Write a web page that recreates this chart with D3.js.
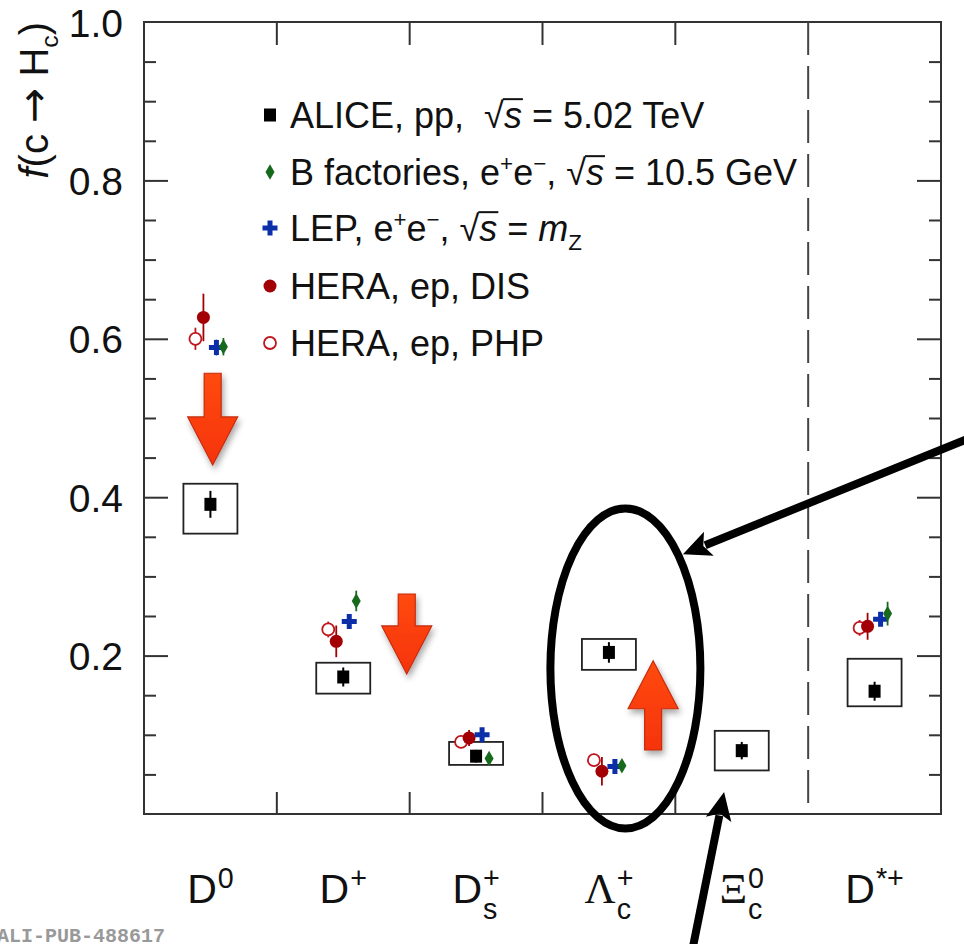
<!DOCTYPE html>
<html>
<head>
<meta charset="utf-8">
<script src="https://cdn.jsdelivr.net/npm/d3@7"></script>
<style>
  html, body { margin: 0; padding: 0; background: #fff; }
  svg { display: block; }
</style>
</head>
<body>
<svg id="chart" width="964" height="944"></svg>
<script>
// ---- Charm fragmentation fractions f(c -> Hc) ----
const categories = ["D0", "D+", "Ds+", "Lc+", "Xic0", "D*+"];

// ALICE, pp, sqrt(s) = 5.02 TeV
const aliceValue   = [0.391, 0.173, 0.073, 0.204, 0.080, 0.155];
const aliceStat    = [0.017, 0.012, 0.008, 0.013, 0.011, 0.012];
const aliceSysUp   = [0.026, 0.018, 0.018, 0.017, 0.025, 0.041];
const aliceSysDown = [0.037, 0.021, 0.011, 0.022, 0.025, 0.019];

// e+e- and ep measurements (null: not measured)
const bfacValue    = [0.590, 0.269, 0.070, 0.061, null, 0.253];
const bfacErr      = [0.011, 0.013, 0.005, 0.005, null, 0.015];
const lepValue     = [0.589, 0.243, 0.100, 0.060, null, 0.246];
const lepErr       = [0.010, 0.008, 0.006, 0.006, null, 0.008];
const heraDisValue = [0.627, 0.218, 0.096, 0.054, null, 0.237];
const heraDisErr   = [0.030, 0.020, 0.010, 0.018, null, 0.017];
const heraPhpValue = [0.600, 0.233, 0.091, 0.068, null, 0.235];
const heraPhpErr   = [0.014, 0.010, 0.008, 0.008, null, 0.010];

const yTickLabels = [0.2, 0.4, 0.6, 0.8, 1.0];

// ---- layout ----
const W = 964, H = 944;
const plot = { left: 144, right: 941, top: 22, bottom: 814 };
const FONT = '"Liberation Sans", Arial, Helvetica, sans-serif';
const SERIF = '"Liberation Serif", "Times New Roman", serif';
const AXIS_COLOR = "#333";

const svg = d3.select("#chart");
const x = d3.scaleBand().domain(categories).range([plot.left, plot.right]);
const y = d3.scaleLinear().domain([0, 1]).range([plot.bottom, plot.top]);
const bw = x.bandwidth();
const xc = c => x(c) + bw / 2;

const defs = svg.append("defs");
const shadow = defs.append("filter").attr("id", "shadow")
  .attr("x", "-50%").attr("y", "-50%").attr("width", "200%").attr("height", "200%");
shadow.append("feDropShadow").attr("dx", 2).attr("dy", 4).attr("stdDeviation", 3)
  .attr("flood-color", "#000").attr("flood-opacity", 0.35);
const grad = defs.append("linearGradient").attr("id", "redfill")
  .attr("x1", 0).attr("y1", 0).attr("x2", 0).attr("y2", 1);
grad.append("stop").attr("offset", "0%").attr("stop-color", "#ff4a12");
grad.append("stop").attr("offset", "100%").attr("stop-color", "#f63308");

// ---- frame ----
svg.append("rect")
  .attr("x", plot.left).attr("y", plot.top)
  .attr("width", plot.right - plot.left).attr("height", plot.bottom - plot.top)
  .attr("fill", "none").attr("stroke", AXIS_COLOR).attr("stroke-width", 2);

// y ticks on both sides (minor every 0.05, major every 0.2)
const minorVals = d3.range(1, 20).map(i => i * 0.05).filter(v => Math.abs(v / 0.2 - Math.round(v / 0.2)) > 1e-6);
const majorVals = [0.2, 0.4, 0.6, 0.8];
function tickAxis(axisFn, xpos, vals, len) {
  const g = svg.append("g").attr("transform", `translate(${xpos},0)`)
    .call(axisFn(y).tickValues(vals).tickSize(-len).tickFormat(""));
  g.select(".domain").remove();
  g.selectAll(".tick line").attr("stroke", AXIS_COLOR).attr("stroke-width", 2);
}
tickAxis(d3.axisLeft, plot.left, minorVals, 12);
tickAxis(d3.axisLeft, plot.left, majorVals, 24);
tickAxis(d3.axisRight, plot.right, minorVals, 12);
tickAxis(d3.axisRight, plot.right, majorVals, 24);

// y tick labels
const yLab = svg.append("g").attr("transform", `translate(${plot.left},0)`)
  .call(d3.axisLeft(y).tickValues(yTickLabels).tickSize(0).tickPadding(21).tickFormat(d3.format(".1f")));
yLab.select(".domain").remove();
yLab.selectAll("text").attr("font-family", FONT).attr("font-size", 39).attr("fill", "#111").attr("dy", "0.36em");

// x ticks at category boundaries (bottom and top)
const bounds = categories.slice(1, -1);
svg.append("g").selectAll("line.bt").data(bounds).join("line")
  .attr("x1", d => x(d)).attr("x2", d => x(d))
  .attr("y1", plot.bottom).attr("y2", plot.bottom - 22)
  .attr("stroke", AXIS_COLOR).attr("stroke-width", 2);
svg.append("g").selectAll("line.tt").data(bounds).join("line")
  .attr("x1", d => x(d)).attr("x2", d => x(d))
  .attr("y1", plot.top).attr("y2", plot.top + 23)
  .attr("stroke", AXIS_COLOR).attr("stroke-width", 2);

// dashed separator before D*+
svg.append("line")
  .attr("x1", x("D*+")).attr("x2", x("D*+"))
  .attr("y1", y(1)).attr("y2", y(0))
  .attr("stroke", "#444").attr("stroke-width", 2).attr("stroke-dasharray", "33,11");

// ---- rich text helper ----
function rich(textSel, parts, fs) {
  let shift = 0;
  const nodes = [];
  parts.forEach(p => {
    let target = 0, size = fs;
    if (p.sup) { target = -0.40 * fs; size = 0.62 * fs; }
    if (p.sub) { target = 0.24 * fs; size = 0.62 * fs; }
    if (p.scale) size = fs * p.scale;
    const ts = textSel.append("tspan").text(p.t)
      .attr("dy", target - shift).attr("font-size", size);
    if (p.it) ts.attr("font-style", "italic");
    if (p.family) ts.attr("font-family", p.family);
    shift = target;
    nodes.push(ts.node());
  });
  return nodes;
}

// ---- y title ----
const yTitle = svg.append("text")
  .attr("transform", `translate(48,${plot.top}) rotate(-90)`)
  .attr("text-anchor", "end").attr("font-family", FONT).attr("fill", "#111");
rich(yTitle, [
  { t: "f", it: true }, { t: "(c " },
  { t: "\u2192", family: '"DejaVu Sans", sans-serif', scale: 1.05 },
  { t: " H" }, { t: "c", sub: true }, { t: ")" }
], 40);

// ---- category labels ----
const catLabels = {
  "D0":   { base: "D", sup: "0" },
  "D+":   { base: "D", sup: "+" },
  "Ds+":  { base: "D", sup: "+", sub: "s" },
  "Lc+":  { base: "\u039B", sup: "+", sub: "c", serif: true },
  "Xic0": { base: "\u039E", sup: "0", sub: "c", serif: true },
  "D*+":  { base: "D", sup: "*+" }
};
const CAT_FS = 41;
categories.forEach(c => {
  const lab = catLabels[c];
  const g = svg.append("g");
  const base = g.append("text").text(lab.base)
    .attr("font-family", lab.serif ? SERIF : FONT).attr("font-size", CAT_FS + (lab.serif ? 2 : 0))
    .attr("fill", "#111");
  const w = base.node().getComputedTextLength();
  let extra = 0;
  if (lab.sup) {
    const s = g.append("text").text(lab.sup).attr("x", w + 1).attr("y", -0.36 * CAT_FS)
      .attr("font-family", FONT).attr("font-size", 0.70 * CAT_FS).attr("fill", "#111");
    extra = Math.max(extra, s.node().getComputedTextLength());
  }
  if (lab.sub) {
    const s = g.append("text").text(lab.sub).attr("x", w + 1).attr("y", 0.38 * CAT_FS)
      .attr("font-family", FONT).attr("font-size", 0.70 * CAT_FS).attr("fill", "#111");
    extra = Math.max(extra, s.node().getComputedTextLength());
  }
  const total = w + 1 + extra;
  g.attr("transform", `translate(${xc(c) - total / 2},903)`);
});

// ---- ALICE points: systematic boxes, stat bars, squares ----
const aliceIdx = d3.range(categories.length);
const BOX_HALF = 27;
svg.append("g").selectAll("rect").data(aliceIdx).join("rect")
  .attr("x", i => xc(categories[i]) - BOX_HALF).attr("width", 2 * BOX_HALF)
  .attr("y", i => y(aliceValue[i] + aliceSysUp[i]))
  .attr("height", i => y(aliceValue[i] - aliceSysDown[i]) - y(aliceValue[i] + aliceSysUp[i]))
  .attr("fill", "none").attr("stroke", "#222").attr("stroke-width", 1.8);
svg.append("g").selectAll("line").data(aliceIdx).join("line")
  .attr("x1", i => xc(categories[i])).attr("x2", i => xc(categories[i]))
  .attr("y1", i => y(aliceValue[i] + aliceStat[i])).attr("y2", i => y(aliceValue[i] - aliceStat[i]))
  .attr("stroke", "#000").attr("stroke-width", 2);
svg.append("g").selectAll("rect").data(aliceIdx).join("rect")
  .attr("x", i => xc(categories[i]) - 6).attr("width", 12)
  .attr("y", i => y(aliceValue[i]) - 6.5).attr("height", 13)
  .attr("fill", "#000");

// ---- other experiments ----
const others = [
  { key: "php", values: heraPhpValue, errs: heraPhpErr, color: "#c0161e", dx: -15,
    symbol: d3.symbolCircle, size: 113, fill: "#fff", stroke: 1.8 },
  { key: "dis", values: heraDisValue, errs: heraDisErr, color: "#a30006", dx: -7,
    symbol: d3.symbolCircle, size: 133, fill: null, stroke: 0 },
  { key: "lep", values: lepValue, errs: lepErr, color: "#0a2fa8", dx: 6,
    symbol: d3.symbolCross, size: 125, fill: null, stroke: 0 },
  { key: "bfac", values: bfacValue, errs: bfacErr, color: "#17691b", dx: 13,
    symbol: d3.symbolDiamond, size: 70, fill: null, stroke: 0 }
];
others.forEach(s => {
  const idx = aliceIdx.filter(i => s.values[i] != null);
  const g = svg.append("g");
  g.selectAll("line").data(idx).join("line")
    .attr("x1", i => xc(categories[i]) + s.dx).attr("x2", i => xc(categories[i]) + s.dx)
    .attr("y1", i => y(s.values[i] + s.errs[i])).attr("y2", i => y(s.values[i] - s.errs[i]))
    .attr("stroke", s.color).attr("stroke-width", 1.8);
  g.selectAll("path").data(idx).join("path")
    .attr("d", d3.symbol().type(s.symbol).size(s.size))
    .attr("transform", i => `translate(${xc(categories[i]) + s.dx},${y(s.values[i])})`)
    .attr("fill", s.fill || s.color)
    .attr("stroke", s.stroke ? s.color : "none").attr("stroke-width", s.stroke);
});

// ---- legend ----
const LEG_FS = 36;
const legendRows = [
  { y: 115, mark: "alice", parts: [{ t: "ALICE, pp,  " }, { t: "\u221A" }, { t: "s", it: true, ov: true }, { t: " = 5.02 TeV" }] },
  { y: 172, mark: "bfac", parts: [{ t: "B factories, e" }, { t: "+", sup: true }, { t: "e" }, { t: "\u2212", sup: true }, { t: ", " }, { t: "\u221A" }, { t: "s", it: true, ov: true }, { t: " = 10.5 GeV" }] },
  { y: 228, mark: "lep", parts: [{ t: "LEP, e" }, { t: "+", sup: true }, { t: "e" }, { t: "\u2212", sup: true }, { t: ", " }, { t: "\u221A" }, { t: "s", it: true, ov: true }, { t: " = " }, { t: "m", it: true }, { t: "Z", sub: true }] },
  { y: 286, mark: "dis", parts: [{ t: "HERA, ep, DIS" }] },
  { y: 343, mark: "php", parts: [{ t: "HERA, ep, PHP" }] }
];
const leg = svg.append("g");
legendRows.forEach(r => {
  const mx = 270;
  if (r.mark === "alice") {
    leg.append("rect").attr("x", mx - 6).attr("y", r.y - 6.5).attr("width", 12).attr("height", 13).attr("fill", "#000");
  } else {
    const s = others.find(o => o.key === r.mark);
    leg.append("path").attr("d", d3.symbol().type(s.symbol).size(s.size))
      .attr("transform", `translate(${mx},${r.y})`)
      .attr("fill", s.fill || s.color)
      .attr("stroke", s.stroke ? s.color : "none").attr("stroke-width", s.stroke);
  }
  const txt = leg.append("text").attr("x", 290).attr("y", r.y + 0.36 * LEG_FS)
    .attr("font-family", FONT).attr("font-size", LEG_FS).attr("fill", "#111")
    .style("white-space", "pre");
  const nodes = rich(txt, r.parts, LEG_FS);
  // radical bar over the italic s
  r.parts.forEach((p, k) => {
    if (!p.ov) return;
    const rad = nodes[k - 1], sNode = nodes[k];
    const x0 = rad.getEndPositionOfChar(0).x - 1;
    const x1 = sNode.getEndPositionOfChar(0).x + 1;
    const yy = r.y + 0.36 * LEG_FS - 0.80 * LEG_FS;
    leg.append("line").attr("x1", x0).attr("x2", x1).attr("y1", yy).attr("y2", yy)
      .attr("stroke", "#111").attr("stroke-width", 2);
  });
});

// ---- emphasis arrows (orange block arrows) ----
const shiftArrows = [
  { cat: "D0",  pos: 0.517, from: 0.5565, to: 0.4407 },
  { cat: "D+",  pos: 0.978, from: 0.2778, to: 0.1768 },
  { cat: "Lc+", pos: 0.833, from: 0.0808, to: 0.1935 }
];
function blockArrow(cx, yTail, yTip) {
  const dir = Math.sign(yTip - yTail), headLen = 48, hw = 25, sw = 8.5;
  const yb = yTip - dir * headLen;
  return `M${cx - sw},${yTail}L${cx + sw},${yTail}L${cx + sw},${yb}L${cx + hw},${yb}L${cx},${yTip}L${cx - hw},${yb}L${cx - sw},${yb}Z`;
}
svg.append("g").selectAll("path").data(shiftArrows).join("path")
  .attr("d", a => blockArrow(x(a.cat) + a.pos * bw, y(a.from), y(a.to)))
  .attr("fill", "url(#redfill)").attr("stroke", "#c42c0c").attr("stroke-width", 1.2)
  .attr("filter", "url(#shadow)");

// ---- highlight ellipse around the Lambda_c points ----
svg.append("ellipse")
  .attr("cx", x("Lc+") + 0.624 * bw).attr("cy", y(0.1837))
  .attr("rx", 75).attr("ry", 160)
  .attr("fill", "none").attr("stroke", "#000").attr("stroke-width", 8);

// ---- pointer arrows ----
const pointers = [
  { fromCat: "D*+", fromPos: 1.22, fromV: 0.475, toCat: "Lc+", toPos: 1.057, toV: 0.328 },
  { fromCat: "Xic0", fromPos: 0.13, fromV: -0.170, toCat: "Xic0", toPos: 0.367, toV: 0.0278 }
];
pointers.forEach(p => {
  const x0 = x(p.fromCat) + p.fromPos * bw, y0 = y(p.fromV);
  const x1 = x(p.toCat) + p.toPos * bw, y1 = y(p.toV);
  const dx = x1 - x0, dy = y1 - y0, L = Math.hypot(dx, dy);
  const ux = dx / L, uy = dy / L, headLen = 28, hw = 13;
  const bx = x1 - ux * headLen, by = y1 - uy * headLen;
  svg.append("line").attr("x1", x0).attr("y1", y0).attr("x2", bx + ux * 4).attr("y2", by + uy * 4)
    .attr("stroke", "#000").attr("stroke-width", 8);
  svg.append("path")
    .attr("d", `M${x1},${y1}L${bx - uy * hw},${by + ux * hw}L${bx + ux * 6},${by + uy * 6}L${bx + uy * hw},${by - ux * hw}Z`)
    .attr("fill", "#000");
});

// ---- publication tag ----
svg.append("text").attr("x", -3).attr("y", 942)
  .attr("font-family", '"Liberation Mono", "Courier New", monospace')
  .attr("font-weight", "bold").attr("font-size", 20).attr("fill", "#999")
  .text("ALI-PUB-488617");
</script>
</body>
</html>
